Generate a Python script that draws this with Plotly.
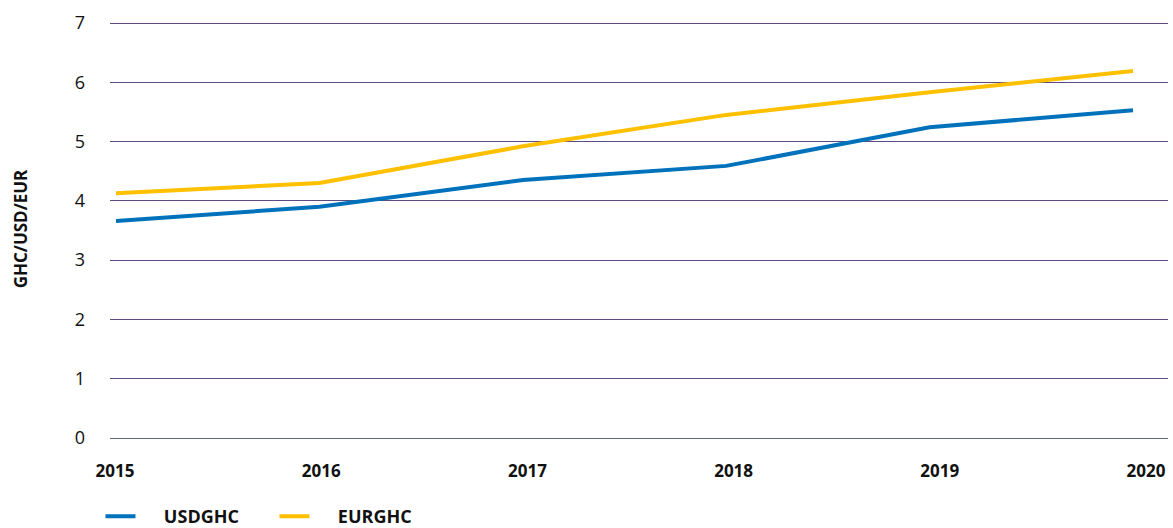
import plotly.graph_objects as go

# Annual exchange rates (GHC per unit of foreign currency)
years = [2015, 2016, 2017, 2018, 2019, 2020]
usdghc = [3.66, 3.90, 4.35, 4.59, 5.24, 5.53]
eurghc = [4.13, 4.30, 4.92, 5.45, 5.83, 6.19]
year_labels = ["2015", "2016", "2017", "2018", "2019", "2020"]
series_names = ["USDGHC", "EURGHC"]

BLUE = "#0072bc"
GOLD = "#ffc000"
GRID = "#5e4a82"

# x axis: data points are spaced slightly tighter than the year labels
X_START, X_END = 2014.9705, 2020.172
label_pos = [X_START + (5 + 206.2 * i) / 203.4 for i in range(len(years))]

# y range extends a hair above 7 so the top grid line is kept
Y_TOP = 7.0506

# non-breaking spaces widen the gap between legend swatch and label
PAD = "\u00a0" * 5

fig = go.Figure()
fig.add_trace(go.Scatter(x=years, y=usdghc, name=PAD + series_names[0], mode="lines",
                         line=dict(color=BLUE, width=4)))
fig.add_trace(go.Scatter(x=years, y=eurghc, name=PAD + series_names[1], mode="lines",
                         line=dict(color=GOLD, width=4)))

fig.update_layout(
    width=1173, height=528,
    margin=dict(l=110, r=5, t=20, b=90, autoexpand=False),
    paper_bgcolor="white", plot_bgcolor="white",
    font=dict(family="Open Sans", color="#111111"),
    showlegend=True,
    legend=dict(orientation="h", x=-0.009, y=-0.188, xanchor="left", yanchor="middle",
                font=dict(size=18, family="Open Sans", weight="bold", color="#111111"),
                entrywidth=129, entrywidthmode="pixels", traceorder="normal",
                bgcolor="rgba(0,0,0,0)"),
    xaxis=dict(range=[X_START, X_END], tickmode="array", tickvals=label_pos,
               ticktext=year_labels, showgrid=False, zeroline=False,
               showline=True, linecolor="#5f6f7d", linewidth=1,
               ticks="", ticklabelstandoff=18,
               tickfont=dict(size=17, family="Open Sans", weight="bold", color="#111111")),
    yaxis=dict(range=[0, Y_TOP], tickmode="array", tickvals=[0, 1, 2, 3, 4, 5, 6, 7],
               showgrid=True, gridcolor=GRID, gridwidth=1, zeroline=False,
               showline=False, ticks="", ticklabelstandoff=24,
               tickfont=dict(size=18, family="Open Sans", color="#111111"),
               title=dict(text="GHC/USD/EUR", standoff=42,
                          font=dict(size=17, family="Open Sans", weight="bold", color="#111111"))),
)

fig.write_html("out.html")
